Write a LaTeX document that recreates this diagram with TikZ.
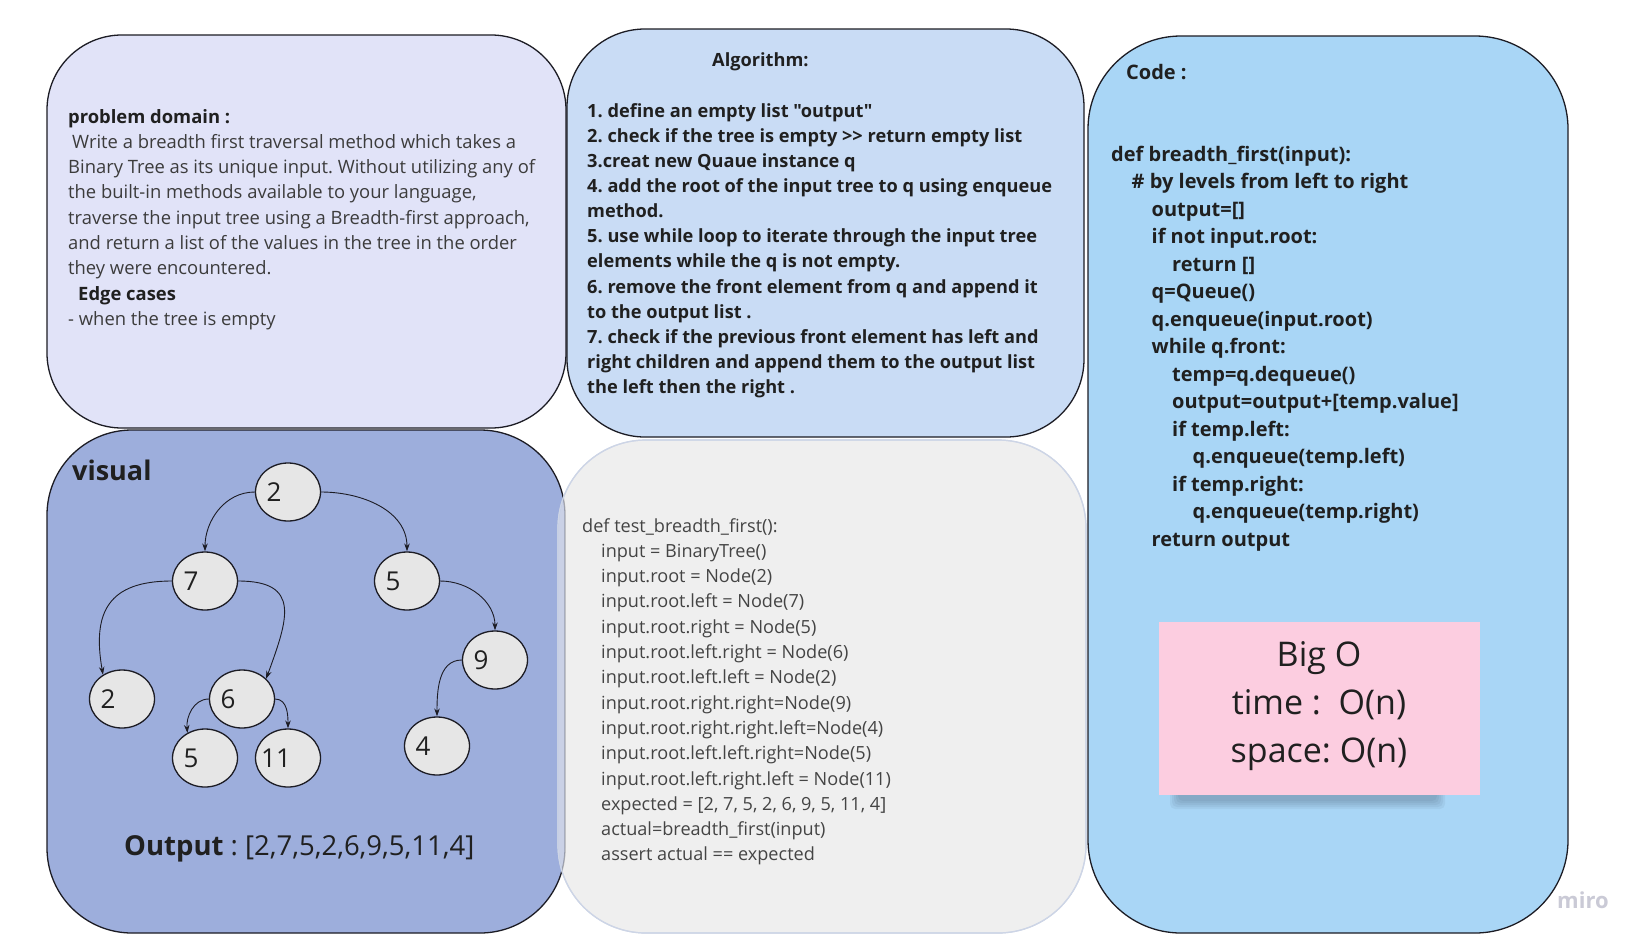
\documentclass[tikz,border=0pt]{standalone}
\usepackage{fontspec}
\setmainfont{Open Sans}[Ligatures=TeXOff]
\usetikzlibrary{arrows.meta,shapes.geometric}
\definecolor{pdfill}{HTML}{E1E3F8}
\definecolor{algfill}{HTML}{C9DCF5}
\definecolor{codefill}{HTML}{A9D6F6}
\definecolor{visfill}{HTML}{9DAEDC}
\definecolor{testfill}{HTML}{EFEFEF}
\definecolor{testline}{HTML}{CDD5E6}
\definecolor{ellfill}{HTML}{E6E6E6}
\definecolor{stickyfill}{HTML}{FCCDE0}
\definecolor{edgec}{HTML}{1C1C24}
\definecolor{txtgrey}{HTML}{3C3C3C}
\definecolor{txtdark}{HTML}{202020}
\definecolor{testtxt}{HTML}{444444}
\definecolor{mirocol}{HTML}{CACAD6}
\definecolor{shadowc}{HTML}{3A4A60}
\frenchspacing
\begin{document}
\frenchspacing
\begin{tikzpicture}[x=1pt, y=1pt,
  boxline/.style={draw=edgec, line width=1.3pt},
  txt/.style={inner sep=0pt, anchor=base west, font=\frenchspacing\fontsize{18.4}{25.3}\selectfont, text=txtgrey},
  boldtxt/.style={inner sep=0pt, anchor=base west, font=\frenchspacing\bfseries\fontsize{18.2}{25.15}\selectfont, text=txtdark},
  codetxt/.style={inner sep=0pt, anchor=base west, font=\frenchspacing\bfseries\fontsize{20}{27.5}\selectfont, text=txtdark},
  tn/.style={ellipse, draw=edgec, fill=ellfill, line width=1.3pt, minimum width=65pt, minimum height=58pt, inner sep=0pt},
  tnum/.style={font=\fontsize{26}{26}\selectfont, text=txtdark, inner sep=0pt, xshift=-14pt},
  arr/.style={draw=edgec, line width=0.9pt, -{Stealth[length=8pt,width=5.5pt]}}
]
\useasboundingbox (0,0) rectangle (1648,-948);
\fill[white] (0,0) rectangle (1648,-948);

% ---- boxes ----
\filldraw[boxline, fill=pdfill, rounded corners=75pt] (47,-35) rectangle (566,-428);
\filldraw[boxline, fill=algfill, rounded corners=78pt] (567,-29) rectangle (1084,-437);
\filldraw[boxline, fill=codefill, rounded corners=93pt] (1088,-36) rectangle (1568,-933);
\filldraw[boxline, fill=visfill, rounded corners=85pt] (47,-430) rectangle (565,-933);
\filldraw[draw=testline, line width=1.2pt, fill=testfill, rounded corners=88pt] (558,-440) rectangle (1086,-933);
\begin{scope}
  \clip[rounded corners=88pt] (558,-440) rectangle (1086,-933);
  \fill[visfill, opacity=0.45, rounded corners=85pt] (47,-430) rectangle (565,-933);
  \draw[edgec, opacity=0.3, line width=1.3pt, rounded corners=85pt] (47,-430) rectangle (565,-933);
\end{scope}
\draw[testline, line width=1.2pt, rounded corners=88pt] (558,-440) rectangle (1086,-933);

% ---- problem domain ----
\node[txt] (pd) at (68,-123) {\begin{tabular}[t]{@{}l@{}}
\textcolor{txtdark}{\bfseries problem domain :}\\
\hspace*{4pt}Write a breadth first traversal method which takes a\\
Binary Tree as its unique input. Without utilizing any of\\
the built-in methods available to your language,\\
traverse the input tree using a Breadth-first approach,\\
and return a list of the values in the tree in the order\\
they were encountered.\\
\hspace*{10pt}\textcolor{txtdark}{\bfseries Edge cases}\\
- when the tree is empty
\end{tabular}};

% ---- algorithm ----
\node[boldtxt] (algt) at (712,-66) {Algorithm:};
\node[boldtxt] (alg) at (587,-117) {\begin{tabular}[t]{@{}l@{}}
1. define an empty list "output"\\
2. check if the tree is empty >> return empty list\\
3.creat new Quaue instance q\\
4. add the root of the input tree to q using enqueue\\
method.\\
5. use while loop to iterate through the input tree\\
elements while the q is not empty.\\
6. remove the front element from q and append it\\
to the output list .\\
7. check if the previous front element has left and\\
right children and append them to the output list\\
the left then the right .
\end{tabular}};

% ---- code ----
\node[codetxt] (codet) at (1126,-79) {Code :};
\node[codetxt] (code) at (1111,-161) {\begin{tabular}[t]{@{}l@{}}
def breadth\_first(input):\\
\hspace*{20.5pt}\# by levels from left to right\\
\hspace*{40.5pt}output=[]\\
\hspace*{40.5pt}if not input.root:\\
\hspace*{61pt}return []\\
\hspace*{40.5pt}q=Queue()\\
\hspace*{40.5pt}q.enqueue(input.root)\\
\hspace*{40.5pt}while q.front:\\
\hspace*{61pt}temp=q.dequeue()\\
\hspace*{61pt}output=output+[temp.value]\\
\hspace*{61pt}if temp.left:\\
\hspace*{81.5pt}q.enqueue(temp.left)\\
\hspace*{61pt}if temp.right:\\
\hspace*{81.5pt}q.enqueue(temp.right)\\
\hspace*{40.5pt}return output
\end{tabular}};

% ---- test ----
\node[txt, text=testtxt, font=\frenchspacing\fontsize{18.1}{25.3}\selectfont] (test) at (582,-532) {\begin{tabular}[t]{@{}l@{}}
def test\_breadth\_first():\\
\hspace*{19pt}input = BinaryTree()\\
\hspace*{19pt}input.root = Node(2)\\
\hspace*{19pt}input.root.left = Node(7)\\
\hspace*{19pt}input.root.right = Node(5)\\
\hspace*{19pt}input.root.left.right = Node(6)\\
\hspace*{19pt}input.root.left.left = Node(2)\\
\hspace*{19pt}input.root.right.right=Node(9)\\
\hspace*{19pt}input.root.right.right.left=Node(4)\\
\hspace*{19pt}input.root.left.left.right=Node(5)\\
\hspace*{19pt}input.root.left.right.left = Node(11)\\
\hspace*{19pt}expected = [2, 7, 5, 2, 6, 9, 5, 11, 4]\\
\hspace*{19pt}actual=breadth\_first(input)\\
\hspace*{19pt}assert actual == expected
\end{tabular}};

% ---- visual ----
\node[inner sep=0pt, anchor=base west, font=\bfseries\fontsize{27}{27}\selectfont, text=txtdark] (vis) at (72,-480) {visual};

\node[tn, label={[tnum]center:2}] (r) at (288,-492) {};
\node[tn, label={[tnum]center:7}] (a7) at (205,-581) {};
\node[tn, label={[tnum]center:5}] (b5) at (407,-581) {};
\node[tn, label={[tnum]center:9}] (c9) at (495,-660) {};
\node[tn, label={[tnum]center:2}] (c2) at (122,-699) {};
\node[tn, label={[tnum]center:6}] (c6) at (242,-699) {};
\node[tn, label={[tnum]center:5}] (d5) at (205,-758) {};
\node[tn, label={[tnum,xshift=2pt]center:11}] (d11) at (288,-758) {};
\node[tn, label={[tnum]center:4}] (d4) at (437,-746) {};

\draw[arr] (r.west) to[out=180,in=90] (a7.north);
\draw[arr] (r.east) to[out=0,in=90] (b5.north);
\draw[arr] (a7.west) to[out=180,in=100,looseness=1.4] (c2.128);
\draw[arr] (a7.east) to[out=0,in=70,looseness=1.6] (c6.40);
\draw[arr] (b5.east) to[out=0,in=90] (c9.north);
\draw[arr] (c9.west) to[out=180,in=90] (d4.north);
\draw[arr] (c6.west) to[out=180,in=95] (d5.125);
\draw[arr] (c6.east) to[out=0,in=90] (d11.north);

\node[inner sep=0pt, anchor=base west, font=\frenchspacing\fontsize{27.5}{27.5}\selectfont, text=txtdark] (out) at (124,-855) {\textbf{Output} : [2,7,5,2,6,9,5,11,4]};

% ---- Big O sticky ----
\foreach \sh in {0,2,4,6,8}
  \fill[shadowc, opacity=0.07, rounded corners=5pt] (1170+\sh,-786) rectangle (1445-\sh,-809+\sh);
\fill[stickyfill] (1159,-622) rectangle (1480,-795);
\node[inner sep=0pt, anchor=base, font=\frenchspacing\fontsize{34}{48}\selectfont, text=txtdark] (bigo) at (1319,-666) {\begin{tabular}[t]{@{}c@{}}
Big O\\
time :\ \ O(n)\\
space: O(n)
\end{tabular}};

\node[inner sep=0pt, anchor=base west, font=\bfseries\fontsize{22}{22}\selectfont, text=mirocol] (miro) at (1557,-908) {miro};
\end{tikzpicture}
\end{document}
